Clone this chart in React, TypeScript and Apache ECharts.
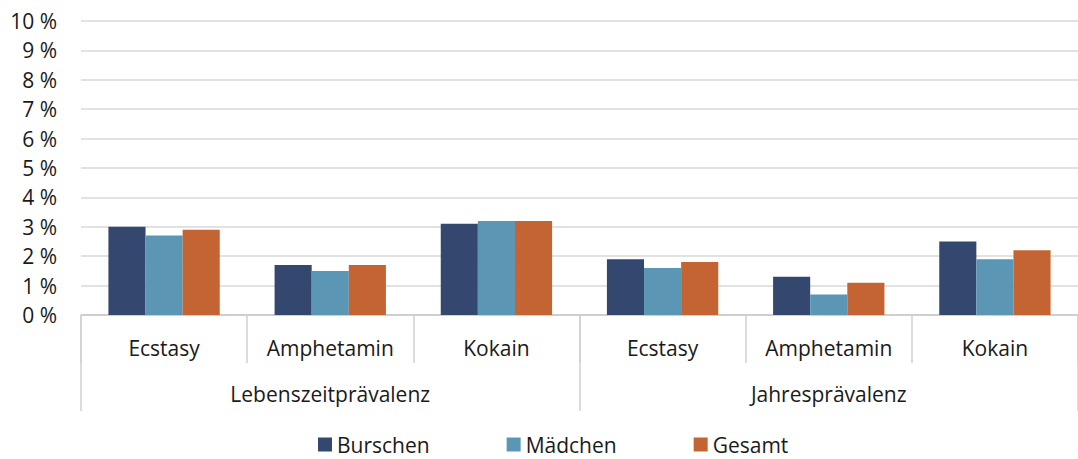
import React, { useEffect, useRef } from "react";
import * as echarts from "echarts";

const substances = ["Ecstasy", "Amphetamin", "Kokain", "Ecstasy", "Amphetamin", "Kokain"];
const groups = ["Lebenszeitprävalenz", "Jahresprävalenz"];
const seriesNames = ["Burschen", "Mädchen", "Gesamt"];
const burschen = [3.0, 1.7, 3.1, 1.9, 1.3, 2.5];
const maedchen = [2.7, 1.5, 3.2, 1.6, 0.7, 1.9];
const gesamt = [2.9, 1.7, 3.2, 1.8, 1.1, 2.2];
const colors = ["#34476e", "#5b96b5", "#c46432"];

const FONT = "'Open Sans', 'Noto Sans', sans-serif";
const FS = 21;

export default function App() {
  const ref = useRef<HTMLDivElement>(null);
  useEffect(() => {
    document.body.style.margin = "0";
    const chart = echarts.init(ref.current!, null, { renderer: "svg" });
    const values = [burschen, maedchen, gesamt];
    chart.setOption({
      animation: false,
      textStyle: { fontFamily: FONT, color: "#1a1a1a" },
      color: colors,
      grid: { left: 81, right: -2, top: 21, bottom: 144, containLabel: false },
      legend: {
        top: 434,
        left: 318,
        padding: 0,
        itemWidth: 14,
        itemHeight: 14,
        itemGap: 77,
        icon: "rect",
        textStyle: { fontFamily: FONT, fontSize: FS, lineHeight: 21, color: "#1a1a1a" },
        data: seriesNames,
      },
      xAxis: [
        {
          type: "category",
          data: substances,
          position: "bottom",
          axisLine: { show: true, lineStyle: { color: "#c8c8c8", width: 1.5 } },
          axisTick: { show: true, length: 48, lineStyle: { color: "#d0d0d0", width: 1.5 } },
          axisLabel: { margin: 22, fontSize: FS, color: "#1a1a1a", fontFamily: FONT },
        },
        {
          type: "category",
          data: groups,
          position: "bottom",
          gridIndex: 0,
          axisLine: { show: false },
          axisTick: { show: true, length: 96, lineStyle: { color: "#d0d0d0", width: 1.5 } },
          axisLabel: { margin: 68, fontSize: FS, color: "#1a1a1a", fontFamily: FONT },
        },
      ],
      yAxis: {
        type: "value",
        min: 0,
        max: 10,
        interval: 1,
        axisLine: { show: false },
        axisTick: { show: false },
        splitLine: { lineStyle: { color: "#d9d9d9", width: 1.5 } },
        axisLabel: {
          margin: 24,
          fontSize: FS,
          color: "#1a1a1a",
          fontFamily: FONT,
          formatter: (v: number) => `${v} %`,
        },
      },
      series: seriesNames.map((name, i) => ({
        name,
        type: "bar",
        xAxisIndex: 0,
        data: values[i],
        barGap: "0%",
        barCategoryGap: "33%",
        itemStyle: { color: colors[i] },
      })),
    });
    return () => chart.dispose();
  }, []);
  return <div ref={ref} style={{ width: 1078, height: 459 }} />;
}
